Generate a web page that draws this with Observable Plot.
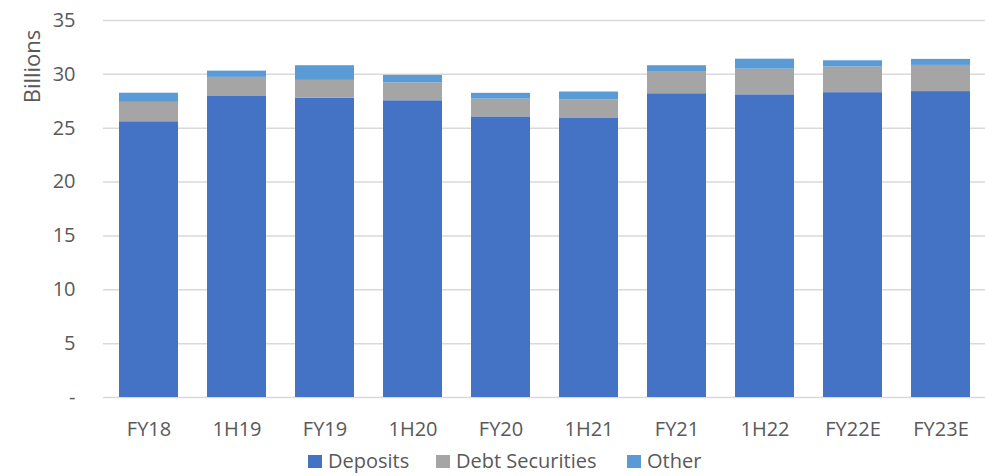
<!DOCTYPE html>
<html>
<head>
<meta charset="utf-8">
<script src="https://cdn.jsdelivr.net/npm/d3@7"></script>
<script src="https://cdn.jsdelivr.net/npm/@observablehq/plot@0.6"></script>
<style>
  html, body { margin: 0; padding: 0; background: #fff; }
  #chart { width: 985px; font-family: "Open Sans", sans-serif; color: #595959; }
  .legend { position: relative; height: 30px; font-size: 20px; }
  .legend .item { position: absolute; top: 0; height: 30px; line-height: 30px; display: flex; align-items: center; white-space: nowrap; }
  .legend .sw { width: 14px; height: 13px; display: inline-block; margin-right: 6px; }
</style>
</head>
<body>
<div id="chart"></div>
<script>
const categories = ["FY18","1H19","FY19","1H20","FY20","1H21","FY21","1H22","FY22E","FY23E"];
const seriesNames = ["Deposits","Debt Securities","Other"];
const deposits = [25.6, 28.0, 27.8, 27.55, 26.05, 25.9, 28.2, 28.1, 28.3, 28.4];
const debtSecurities = [1.8, 1.72, 1.64, 1.65, 1.65, 1.72, 2.0, 2.38, 2.38, 2.43];
const other = [0.85, 0.58, 1.36, 0.7, 0.54, 0.74, 0.6, 0.93, 0.58, 0.56];
const seriesColors = ["#4472C4","#A5A5A5","#5B9BD5"];
const yTicks = [0,5,10,15,20,25,30,35];
const legendLeft = [308, 436, 627];

const seriesValues = [deposits, debtSecurities, other];
const data = [];
categories.forEach((c, i) => {
  seriesNames.forEach((s, j) => data.push({category: c, series: s, value: seriesValues[j][i]}));
});

const chart = Plot.plot({
  width: 985,
  height: 446,
  marginTop: 20,
  marginBottom: 49,
  marginLeft: 103,
  marginRight: 0,
  style: {fontFamily: "Open Sans, sans-serif", fontSize: "20px", color: "#595959", background: "#fff"},
  x: {domain: categories, paddingInner: 0.335, paddingOuter: 0.17, label: null},
  y: {domain: [0, 35], label: null},
  color: {domain: seriesNames, range: seriesColors},
  marks: [
    Plot.gridY(yTicks, {stroke: "#d9d9d9", strokeOpacity: 1, strokeWidth: 1.5}),
    Plot.barY(data, {x: "category", y: "value", fill: "series", order: seriesNames, inset: 0}),
    Plot.axisY(yTicks, {tickSize: 0, tickPadding: 28, label: null, fontSize: 20, tickFormat: d => d === 0 ? "-" : String(d), fill: "#595959"}),
    Plot.axisX({tickSize: 0, tickPadding: 24, label: null, fontSize: 20, fill: "#595959"}),
    Plot.text(["Billions"], {frameAnchor: "top-left", rotate: -90, textAnchor: "middle", dx: -79, dy: 46, fontSize: 22, fill: "#595959", text: d => d})
  ]
});
document.getElementById("chart").appendChild(chart);

const legend = document.createElement("div");
legend.className = "legend";
seriesNames.forEach((s, i) => {
  const item = document.createElement("span");
  item.className = "item";
  item.style.left = legendLeft[i] + "px";
  const sw = document.createElement("span");
  sw.className = "sw";
  sw.style.background = seriesColors[i];
  item.appendChild(sw);
  item.appendChild(document.createTextNode(s));
  legend.appendChild(item);
});
document.getElementById("chart").appendChild(legend);
</script>
</body>
</html>
